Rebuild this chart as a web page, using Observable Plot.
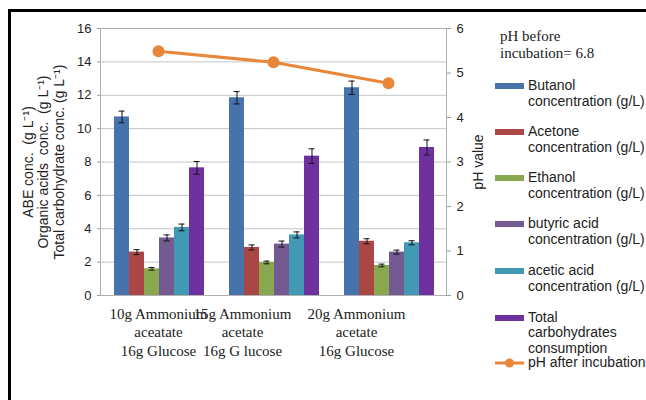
<!DOCTYPE html>
<html>
<head>
<meta charset="utf-8">
<script src="https://cdn.jsdelivr.net/npm/d3@7"></script>
<script src="https://cdn.jsdelivr.net/npm/@observablehq/plot@0.6"></script>
<style>
  body { margin: 0; background: #fff; }
  #wrap { position: relative; width: 646px; height: 400px; overflow: hidden; background: #fff; }
  #wrap svg { position: absolute; left: 0; top: 0; }
  .border { position: absolute; left: 8px; top: 9px; right: -10px; bottom: -10px;
            border-top: 3px solid #000; border-left: 3px solid #000; }
  .note { position: absolute; left: 500px; top: 28px; font: 15px "Liberation Serif", "Times New Roman", serif;
          line-height: 17px; color: #222; }
  .item { position: absolute; left: 495px; width: 150px; font: 14px "Liberation Sans", Arial, sans-serif;
          line-height: 15.7px; color: #222; }
  .item .sw { position: absolute; left: 0; }
  .item .tx { margin-left: 33px; white-space: nowrap; }
</style>
</head>
<body>
<div id="wrap"></div>
<script>
// Treatments (x categories), drawn as three-line labels
const groupLines = [
  ["10g Ammonium", "aceatate", "16g Glucose"],
  ["15g Ammonium", "acetate", "16g G lucose"],
  ["20g Ammonium", "acetate", "16g Glucose"]
];
// Measured series
const seriesLines = [
  ["Butanol", "concentration (g/L)"],
  ["Acetone", "concentration (g/L)"],
  ["Ethanol", "concentration (g/L)"],
  ["butyric acid", "concentration (g/L)"],
  ["acetic acid", "concentration (g/L)"],
  ["Total", "carbohydrates", "consumption"]
];
const seriesColors = ["#4673ab", "#aa4744", "#8aa84f", "#735b92", "#4299b4", "#7031a0"];

// Concentrations (g/L), one value per treatment
const butanol = [10.7, 11.85, 12.45];
const acetone = [2.6, 2.88, 3.25];
const ethanol = [1.6, 1.98, 1.8];
const butyric = [3.45, 3.08, 2.6];
const acetic  = [4.08, 3.63, 3.16];
const carbs   = [7.65, 8.35, 8.87];

// Error bar half-widths
const butanolErr = [0.35, 0.37, 0.4];
const acetoneErr = [0.15, 0.15, 0.15];
const ethanolErr = [0.08, 0.08, 0.08];
const butyricErr = [0.18, 0.18, 0.12];
const aceticErr  = [0.2, 0.18, 0.12];
const carbsErr   = [0.38, 0.44, 0.45];

// pH after incubation
const phAfter = [5.49, 5.24, 4.77];
const phBefore = "6.8";

const yTicks = [0, 2, 4, 6, 8, 10, 12, 14, 16];
const phTicks = [0, 1, 2, 3, 4, 5, 6];
const yTitle = "ABE conc.  (g L\u207B\u00B9)\nOrganic acids  conc.  (g L\u207B\u00B9)\nTotal carbohydrate conc. (g L\u207B\u00B9)";

// horizontal nudges of the category labels (px)
const labelShift = [0, -31, -32];

const groupKeys = groupLines.map(l => l.join("\n"));
const seriesKeys = seriesLines.map(l => l.join(" "));
const values = [butanol, acetone, ethanol, butyric, acetic, carbs];
const errors = [butanolErr, acetoneErr, ethanolErr, butyricErr, aceticErr, carbsErr];

const rows = [];
groupKeys.forEach((g, i) => seriesKeys.forEach((s, j) => {
  rows.push({group: g, series: s, value: values[j][i], err: errors[j][i]});
}));
const phRows = groupKeys.map((g, i) => ({group: g, ph: phAfter[i]}));

const dims = {width: 646, height: 400, marginLeft: 100, marginRight: 200, marginTop: 28, marginBottom: 105};
const style = {background: "transparent", fontFamily: "'Liberation Sans', Arial, sans-serif", fontSize: "13px", color: "#222"};
const orange = "#e8873a";

const bars = Plot.plot({
  ...dims, style,
  fx: {domain: groupKeys, padding: 0, axis: null},
  x: {domain: seriesKeys, paddingInner: 0, paddingOuter: 0.81, axis: null},
  y: {domain: [0, 16], axis: null},
  color: {domain: seriesKeys, range: seriesColors},
  marks: [
    Plot.gridY(yTicks, {stroke: "#c4c4c4", strokeOpacity: 1}),
    Plot.barY(rows, {fx: "group", x: "series", y: "value", fill: "series"}),
    Plot.ruleX(rows, {fx: "group", x: "series", y1: d => d.value - d.err, y2: d => d.value + d.err, stroke: "#111", strokeWidth: 1}),
    Plot.tickY(rows, {fx: "group", x: "series", y: d => d.value - d.err, stroke: "#111", insetLeft: 4.5, insetRight: 4.5}),
    Plot.tickY(rows, {fx: "group", x: "series", y: d => d.value + d.err, stroke: "#111", insetLeft: 4.5, insetRight: 4.5}),
    Plot.axisY(yTicks, {anchor: "left", tickSize: 4, tickPadding: 6, stroke: "#9a9a9a", fill: "#222", fontSize: 13, label: null})
  ]
});

const overlay = Plot.plot({
  ...dims, style,
  x: {type: "point", domain: groupKeys, padding: 0.5, axis: null},
  y: {domain: [0, 6], axis: null},
  marks: [
    Plot.frame({stroke: "#b0b0b0"}),
    Plot.axisY(phTicks, {anchor: "right", tickSize: 4, tickPadding: 6, stroke: "#9a9a9a", fill: "#222", fontSize: 13, label: null}),
    Plot.line(phRows, {x: "group", y: "ph", stroke: orange, strokeWidth: 3}),
    Plot.dot(phRows, {x: "group", y: "ph", r: 6, fill: orange}),
    ...groupKeys.map((g, i) => Plot.text([g], {
      x: d => d, text: d => d, frameAnchor: "bottom", dy: 36, dx: labelShift[i],
      textAnchor: "middle", lineAnchor: "middle", lineHeight: 1.23,
      fontFamily: "'Liberation Serif', 'Times New Roman', serif", fontSize: 15, fill: "#222"
    })),
    Plot.text([yTitle], {text: d => d, frameAnchor: "left", dx: -57, rotate: -90,
      textAnchor: "middle", lineAnchor: "middle", lineHeight: 1.11, fontSize: 14, fill: "#222"}),
    Plot.text(["pH value"], {text: d => d, frameAnchor: "right", dx: 32, rotate: -90,
      textAnchor: "middle", lineAnchor: "middle", fontSize: 14, fill: "#222"})
  ]
});

const wrap = document.getElementById("wrap");
wrap.appendChild(bars);
wrap.appendChild(overlay);

// Legend
const note = document.createElement("div");
note.className = "note";
note.innerHTML = "pH before<br>incubation= " + phBefore;
wrap.appendChild(note);

const itemTop = [78, 124, 170.3, 216.3, 263, 309.7];
seriesLines.forEach((lines, i) => {
  const item = document.createElement("div");
  item.className = "item";
  item.style.top = itemTop[i] + "px";
  const sw = document.createElement("div");
  sw.className = "sw";
  Object.assign(sw.style, {top: "5px", width: "29px", height: "6px", background: seriesColors[i]});
  const tx = document.createElement("div");
  tx.className = "tx";
  tx.innerHTML = lines.join("<br>");
  item.appendChild(sw);
  item.appendChild(tx);
  wrap.appendChild(item);
});

const phItem = document.createElement("div");
phItem.className = "item";
phItem.style.top = "355px";
phItem.innerHTML = `<svg width="30" height="16" style="position:absolute;left:0;top:0">
  <line x1="0" x2="29" y1="8" y2="8" stroke="${orange}" stroke-width="3"></line>
  <circle cx="14.5" cy="8" r="4.5" fill="${orange}"></circle></svg><div class="tx">pH after incubation</div>`;
wrap.appendChild(phItem);

const border = document.createElement("div");
border.className = "border";
wrap.appendChild(border);
</script>
</body>
</html>
